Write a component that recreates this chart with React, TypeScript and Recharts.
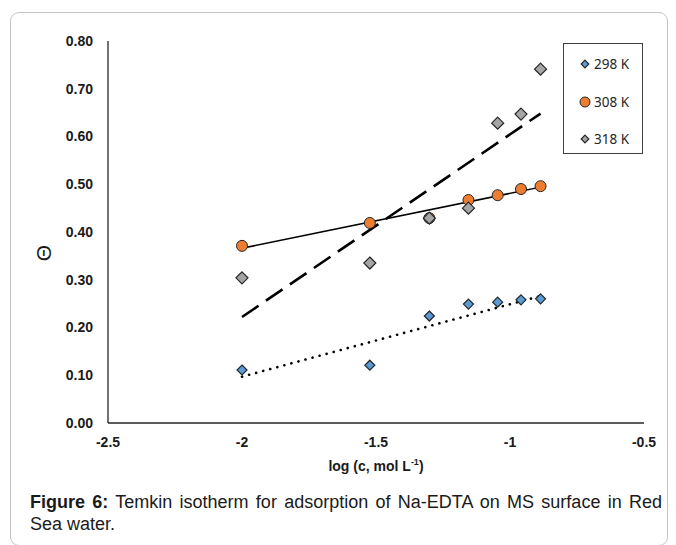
import { ComposedChart, Scatter, Line, XAxis, YAxis, Legend } from 'recharts'

// log c values (mol/L) shared by all three temperatures
const logC = [-2.0, -1.523, -1.301, -1.155, -1.046, -0.959, -0.886]
const theta298 = [0.111, 0.121, 0.224, 0.249, 0.253, 0.258, 0.26]
const theta308 = [0.371, 0.419, 0.429, 0.467, 0.477, 0.49, 0.496]
const theta318 = [0.304, 0.335, 0.429, 0.45, 0.628, 0.647, 0.741]

// linear trend line endpoints
const trendX = [-2.0, -0.886]
const trend298 = [0.097, 0.266]
const trend308 = [0.366, 0.494]
const trend318 = [0.222, 0.648]

const xTicks = [-2.5, -2, -1.5, -1, -0.5]
const yTicks = [0, 0.1, 0.2, 0.3, 0.4, 0.5, 0.6, 0.7, 0.8]

const series = [
  { name: '298 K', values: theta298, fill: '#5b9bd5', kind: 'diamond', size: 5 },
  { name: '308 K', values: theta308, fill: '#ed7d31', kind: 'circle', size: 5.5 },
  { name: '318 K', values: theta318, fill: '#a5a5a5', kind: 'diamond', size: 6 },
]

const toPoints = (xs: number[], ys: number[]) => xs.map((x, i) => ({ x, y: ys[i] }))

const font = '"Liberation Sans", Arial, sans-serif'

function Marker({ cx, cy, kind, size, fill }: any) {
  if (cx == null || cy == null) return null
  if (kind === 'circle') {
    return <circle cx={cx} cy={cy} r={size} fill={fill} stroke="#262626" strokeWidth={1} />
  }
  const r = size
  return (
    <path
      d={`M${cx},${cy - r}L${cx + r},${cy}L${cx},${cy + r}L${cx - r},${cy}Z`}
      fill={fill}
      stroke="#262626"
      strokeWidth={1.2}
    />
  )
}

function LegendBox() {
  return (
    <div
      style={{
        width: 78,
        height: 109,
        border: '1px solid #404040',
        background: '#fff',
        fontFamily: '"Noto Sans", sans-serif',
        fontSize: 13.5,
        color: '#262626',
        boxSizing: 'content-box',
      }}
    >
      {series.map((s, i) => (
        <div
          key={s.name}
          style={{ position: 'absolute', left: 16, top: 12 + i * 37.5, display: 'flex', alignItems: 'center' }}
        >
          <svg width={12} height={12} style={{ marginRight: 3 }}>
            <Marker cx={6} cy={6} kind={s.kind} size={s.kind === 'circle' ? 5 : 3.8} fill={s.fill} />
          </svg>
          <span>{s.name}</span>
        </div>
      ))}
    </div>
  )
}

export default function App() {
  return (
    <div>
      <div
        style={{
          position: 'absolute',
          left: 10,
          top: 12,
          width: 656,
          height: 532,
          border: '1px solid #c4c4c4',
          borderRadius: 9,
        }}
      />
      <div style={{ position: 'absolute', left: 0, top: 0 }}>
        <ComposedChart width={676} height={490} margin={{ top: 41, right: 32, bottom: 7, left: 0 }}>
          <XAxis
            type="number"
            dataKey="x"
            domain={[-2.5, -0.5]}
            ticks={xTicks}
            tickFormatter={(v: number) => String(v)}
            height={60}
            tickSize={0}
            tickMargin={14}
            tickLine={false}
            axisLine={{ stroke: '#262626', strokeWidth: 1.3 }}
            tick={{ fill: '#1a1a1a', fontSize: 14, fontWeight: 700, fontFamily: font }}
            label={{
              content: () => (
                <text x={376} y={471} textAnchor="middle" fill="#1a1a1a" fontSize={14} fontWeight={700} fontFamily={font}>
                  log (c, mol L
                  <tspan fontSize={9} dy={-6}>-1</tspan>
                  <tspan dy={6}>)</tspan>
                </text>
              ),
            }}
          />
          <YAxis
            type="number"
            dataKey="y"
            domain={[0, 0.8]}
            ticks={yTicks}
            tickFormatter={(v: number) => v.toFixed(2)}
            width={108}
            tickSize={0}
            tickMargin={15}
            tickLine={false}
            axisLine={{ stroke: '#262626', strokeWidth: 1.3 }}
            tick={{ fill: '#1a1a1a', fontSize: 14, fontWeight: 700, fontFamily: font }}
            label={{
              content: () => (
                <text
                  x={43}
                  y={253}
                  transform="rotate(-90 43 253)"
                  textAnchor="middle"
                  dominantBaseline="central"
                  fill="#1a1a1a"
                  fontSize={21}
                  fontFamily={font}
                >
                  Θ
                </text>
              ),
            }}
          />
          <Legend
            layout="vertical"
            align="center"
            verticalAlign="middle"
            content={() => <LegendBox />}
            wrapperStyle={{ left: 563, top: 43, width: 80, height: 111 }}
          />
          {series.map((s) => (
            <Scatter
              key={s.name}
              name={s.name}
              data={toPoints(logC, s.values)}
              fill={s.fill}
              isAnimationActive={false}
              shape={(p: any) => <Marker cx={p.cx} cy={p.cy} kind={s.kind} size={s.size} fill={s.fill} />}
            />
          ))}
          <Line
            data={toPoints(trendX, trend298)}
            dataKey="y"
            stroke="#000"
            strokeWidth={2.6}
            strokeDasharray="0.1 7.2"
            strokeLinecap="round"
            dot={false}
            activeDot={false}
            legendType="none"
            isAnimationActive={false}
          />
          <Line
            data={toPoints(trendX, trend308)}
            dataKey="y"
            stroke="#000"
            strokeWidth={1.5}
            dot={false}
            activeDot={false}
            legendType="none"
            isAnimationActive={false}
          />
          <Line
            data={toPoints(trendX, trend318)}
            dataKey="y"
            stroke="#000"
            strokeWidth={2.6}
            strokeDasharray="20 9"
            dot={false}
            activeDot={false}
            legendType="none"
            isAnimationActive={false}
          />
        </ComposedChart>
      </div>
      <div
        style={{
          position: 'absolute',
          left: 30,
          top: 491,
          width: 632,
          fontFamily: font,
          fontSize: 18,
          lineHeight: '22px',
          color: '#1a1a1a',
        }}
      >
        <div style={{ textAlign: 'justify', textAlignLast: 'justify', whiteSpace: 'nowrap' }}>
          <b>Figure 6:</b> Temkin isotherm for adsorption of Na-EDTA on MS surface in Red
        </div>
        <div>Sea water.</div>
      </div>
    </div>
  )
}
